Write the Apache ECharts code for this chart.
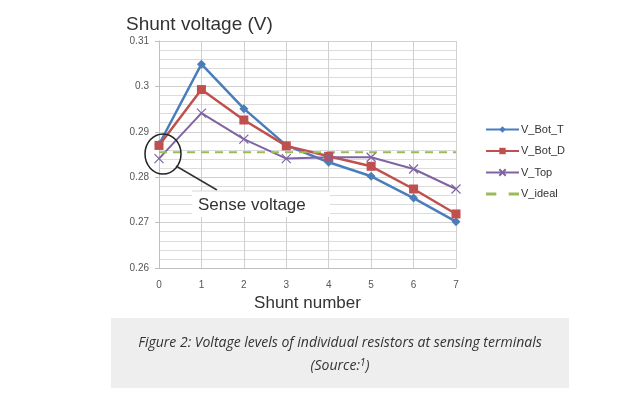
<!DOCTYPE html>
<html>
<head>
<meta charset="utf-8">
<script src="https://cdn.jsdelivr.net/npm/echarts@6/dist/echarts.min.js"></script>
<style>
  html, body { margin: 0; padding: 0; background: #ffffff; }
  #chart { width: 631px; height: 397px; }
</style>
</head>
<body>
<div id="chart"></div>
<script>
  // shunt index 0..7
  var shunts = [0, 1, 2, 3, 4, 5, 6, 7];
  var vBotT = [0.2872, 0.3049, 0.2951, 0.2870, 0.2833, 0.2802, 0.2754, 0.2702];
  var vBotD = [0.2870, 0.2993, 0.2926, 0.2869, 0.2846, 0.2824, 0.2774, 0.2719];
  var vTop = [0.2841, 0.2941, 0.2884, 0.2841, 0.2844, 0.2844, 0.2818, 0.2774];
  var vIdeal = 0.2855;

  function pairs(vals) {
    return shunts.map(function (x, i) { return [x, vals[i]]; });
  }

  var chart = echarts.init(document.getElementById('chart'));
  var option = {
    backgroundColor: '#ffffff',
    animation: false,
    title: {
      text: 'Shunt voltage (V)',
      left: 121,
      top: 10,
      textStyle: { fontFamily: 'Liberation Sans', fontSize: 19, fontWeight: 'normal', color: '#333333' }
    },
    legend: {
      orient: 'vertical',
      left: 480,
      top: 119,
      itemGap: 10.5,
      itemWidth: 33,
      itemHeight: 8,
      textStyle: { fontFamily: 'Liberation Sans', fontSize: 11, color: '#333333', padding: [0, 0, 0, -3] },
      data: [
        'V_Bot_T', 'V_Bot_D', 'V_Top',
        { name: 'V_ideal', icon: 'path://M0,0h10v3h-10zM22,0h10v3h-10z' }
      ]
    },
    grid: { left: 159, right: 175, top: 41, bottom: 129 },
    xAxis: {
      type: 'value',
      min: 0,
      max: 7,
      interval: 1,
      name: 'Shunt number',
      nameLocation: 'middle',
      nameGap: 25,
      nameTextStyle: { fontFamily: 'Liberation Sans', fontSize: 17, color: '#333333' },
      axisLine: { lineStyle: { color: '#bfbfbf' } },
      axisTick: { show: false },
      axisLabel: { fontFamily: 'Liberation Sans', fontSize: 10, color: '#555555', margin: 12 },
      splitLine: { show: true, lineStyle: { color: '#d0d0d0' } }
    },
    yAxis: {
      type: 'value',
      min: 0.26,
      max: 0.31,
      interval: 0.01,
      axisLine: { show: true, lineStyle: { color: '#bfbfbf' } },
      axisTick: { show: true, length: 4, lineStyle: { color: '#bfbfbf' } },
      axisLabel: {
        fontFamily: 'Liberation Sans', fontSize: 10, color: '#555555', margin: 10,
        formatter: function (v) { return String(+v.toFixed(2)); }
      },
      splitLine: { show: true, lineStyle: { color: '#d0d0d0' } },
      minorTick: { show: false, splitNumber: 5 },
      minorSplitLine: { show: true, lineStyle: { color: '#dcdcdc' } }
    },
    series: [
      {
        name: 'V_Bot_T', type: 'line', data: pairs(vBotT),
        symbol: 'diamond', symbolSize: 9,
        lineStyle: { color: '#4a7ebb', width: 2.5 },
        itemStyle: { color: '#4a7ebb' }
      },
      {
        name: 'V_Bot_D', type: 'line', data: pairs(vBotD),
        symbol: 'rect', symbolSize: 9,
        lineStyle: { color: '#c0504d', width: 2.5 },
        itemStyle: { color: '#c0504d' }
      },
      {
        name: 'V_Top', type: 'line', data: pairs(vTop),
        symbol: 'path://M0,0L10,10M10,0L0,10', symbolSize: 9,
        lineStyle: { color: '#8064a2', width: 2 },
        itemStyle: { color: '#8064a2', borderColor: '#8064a2', borderWidth: 1.2 }
      },
      {
        name: 'V_ideal', type: 'line', data: pairs(shunts.map(function () { return vIdeal; })),
        symbol: 'none',
        lineStyle: { color: '#9bbb59', width: 2, type: [8, 6] },
        itemStyle: { color: '#9bbb59' }
      }
    ],
    graphic: [
      // annotation
      { type: 'ellipse', shape: { cx: 163, cy: 154, rx: 18, ry: 20 }, style: { fill: 'none', stroke: '#222222', lineWidth: 1.5 }, z: 10 },
      { type: 'line', shape: { x1: 176, y1: 166, x2: 217, y2: 190 }, style: { stroke: '#333333', lineWidth: 1.5 }, z: 10 },
      { type: 'rect', shape: { x: 192, y: 191, width: 138, height: 26 }, style: { fill: '#ffffff', stroke: null }, z: 9 },
      { type: 'line', shape: { x1: 192, y1: 191, x2: 330, y2: 191 }, style: { stroke: '#d8d8d8', lineWidth: 1 }, z: 10 },
      { type: 'text', left: 198, top: 197, style: { text: 'Sense voltage', fontFamily: 'Liberation Sans', fontSize: 17, fill: '#333333' }, z: 10 },
      // caption
      { type: 'rect', shape: { x: 111, y: 318, width: 458, height: 70 }, style: { fill: '#eeeeee' } },
      {
        type: 'text', x: 340, y: 343,
        style: {
          text: 'Figure 2: Voltage levels of individual resistors at sensing terminals',
          fontFamily: 'Open Sans', fontStyle: 'italic', fontSize: 14, fill: '#333333',
          align: 'center', verticalAlign: 'middle'
        }
      },
      {
        type: 'text', x: 340, y: 366,
        style: {
          text: '(Source:{s|1})',
          rich: { s: { fontSize: 10, verticalAlign: 'top', padding: [0, 0, 6, 0], fontStyle: 'italic', fontFamily: 'Open Sans', fill: '#333333' } },
          fontFamily: 'Open Sans', fontStyle: 'italic', fontSize: 14, fill: '#333333',
          align: 'center', verticalAlign: 'middle'
        }
      }
    ]
  };
  chart.setOption(option);
</script>
</body>
</html>
